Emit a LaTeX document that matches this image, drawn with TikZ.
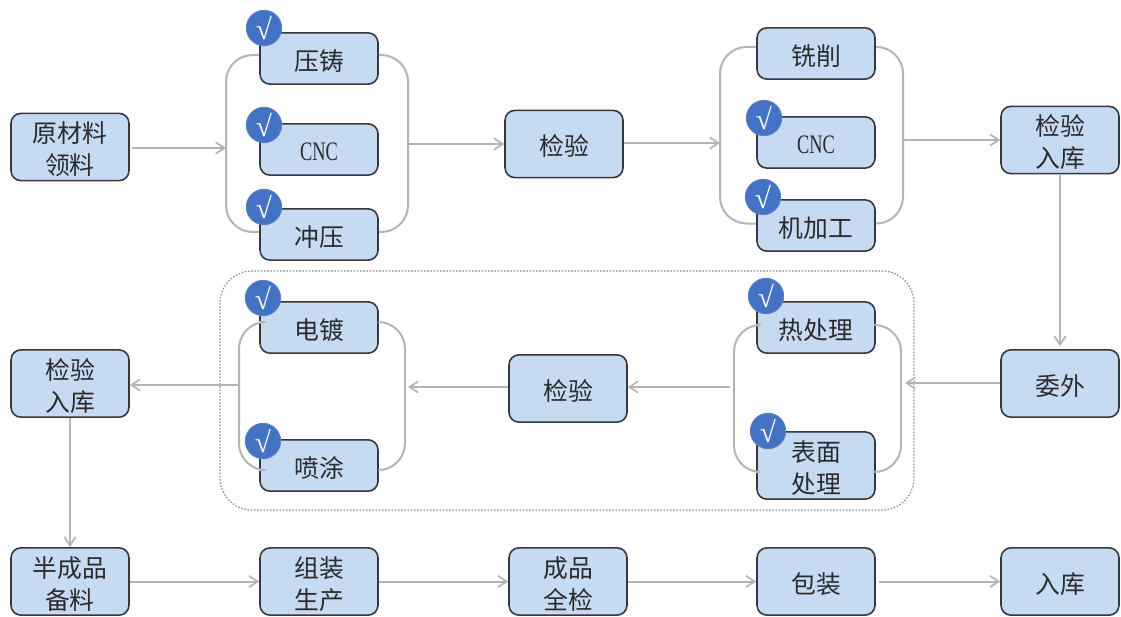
\documentclass[tikz,border=0pt]{standalone}
\usepackage{graphicx}
\usepackage{fontspec}
\setmainfont{Noto Sans CJK SC}
\newfontfamily\latinf{Liberation Serif}
\usetikzlibrary{arrows.meta}
\definecolor{boxfill}{HTML}{C6DAF2}
\definecolor{boxline}{HTML}{33383D}
\definecolor{link}{HTML}{B4B4B4}
\definecolor{badge}{HTML}{4472C4}
\definecolor{badgeline}{HTML}{5B80C4}
\definecolor{dotline}{HTML}{8E8E8E}
\definecolor{txt}{HTML}{2B2B2B}
\newcommand{\tx}[1]{\raisebox{-4pt}[\height][\depth]{\begin{tabular}{@{}c@{}}#1\end{tabular}}}
\newcommand{\cncword}{{\latinf\fontsize{20}{22}\selectfont\raisebox{-1.6pt}[\height][\depth]{\scalebox{.69}[1]{CNC}}}}
\tikzset{
  bx/.style={draw=boxline,line width=1.2pt,fill=boxfill,rounded corners=7.5pt,minimum width=88.5pt,inner sep=0pt,text=txt,font=\fontsize{18.6}{24}\selectfont},
  lowbox/.style={bx,minimum height=38.5pt},
  tallbox/.style={bx,minimum height=50.5pt},
  tick/.style={circle,draw=badgeline,line width=.7pt,fill=badge,minimum size=26.5pt,inner sep=0pt,text=white,font=\latinf\fontsize{22}{24}\selectfont},
  link/.style={draw=link,line width=1.5pt},
  arr/.style={link,-{Straight Barb[length=6.5pt,width=8.5pt,line width=1.3pt]}},
  brk/.style={link,rounded corners=20pt},
  ring/.style={draw=dotline,line width=.9pt,dash pattern=on 1.2pt off 1.2pt,rounded corners=24pt}
}
\begin{document}
\begin{tikzpicture}[x=.75pt,y=-.75pt]
\useasboundingbox (0,0) rectangle (1121,617);
\draw[ring] (220,271) rectangle (914,510);
% boxes
\node[tallbox] (raw) at (70,147) {\tx{原材料\\领料}};
\node[lowbox] (yz) at (319,58.5) {\tx{压铸}};
\node[lowbox] (cnca) at (319,149.5) {\cncword};
\node[lowbox] (cy) at (319,234.5) {\tx{冲压}};
\node[tallbox] (jya) at (564,144) {\tx{检验}};
\node[lowbox] (xx) at (816,53.5) {\tx{铣削}};
\node[lowbox] (cncb) at (816,142.5) {\cncword};
\node[lowbox] (jjg) at (816,225.5) {\tx{机加工}};
\node[tallbox] (rka) at (1060,140) {\tx{检验\\入库}};
\node[tallbox] (wy) at (1060,383.5) {\tx{委外}};
\node[lowbox] (rcl) at (816,327.5) {\tx{热处理}};
\node[tallbox] (bm) at (816,465.5) {\tx{表面\\处理}};
\node[tallbox] (jyb) at (568,388.5) {\tx{检验}};
\node[lowbox] (dd) at (319,327.5) {\tx{电镀}};
\node[lowbox] (pt) at (319,465.5) {\tx{喷涂}};
\node[tallbox] (rkb) at (70,383.5) {\tx{检验\\入库}};
\node[tallbox] (bcp) at (70,581.5) {\tx{半成品\\备料}};
\node[tallbox] (zz) at (319,581.5) {\tx{组装\\生产}};
\node[tallbox] (cp) at (568,581.5) {\tx{成品\\全检}};
\node[tallbox] (bz) at (816,581.5) {\tx{包装}};
\node[tallbox] (rkc) at (1060,581.5) {\tx{入库}};
% bracket coordinates
\coordinate (la) at (226,148);
\coordinate (ra) at (408,144);
\coordinate (lb) at (720,143);
\coordinate (rb) at (903,140);
\coordinate (lc) at (734,387);
\coordinate (rc) at (901,383);
\coordinate (rcx) at (905,383);
\coordinate (ld) at (239,385);
\coordinate (rd) at (405,387);
\coordinate (rdx) at (408,387);
\coordinate (lcx) at (730,387);
% brackets
\draw[brk] ([yshift=2.6pt]yz.west) -| (la) |- ([yshift=1.9pt]cy.west);
\draw[brk] ([yshift=2.6pt]yz.east) -| (ra) |- ([yshift=1.9pt]cy.east);
\draw[brk] ([yshift=4.9pt]xx.west) -| (lb) |- ([yshift=1.5pt]jjg.west);
\draw[brk] ([yshift=4.9pt]xx.east) -| (rb) |- ([yshift=1.5pt]jjg.east);
\draw[brk] ([yshift=1.9pt]rcl.west) -| (lc) |- ([yshift=-4.9pt]bm.west);
\draw[brk] ([yshift=1.9pt]rcl.east) -| (rc) |- ([yshift=-4.9pt]bm.east);
\draw[brk] ([yshift=4.1pt]dd.west) -| (ld) |- ([yshift=-3.4pt]pt.west);
\draw[brk] ([yshift=4.1pt]dd.east) -| (rd) |- ([yshift=-3.4pt]pt.east);
% arrows
\draw[arr] (raw.east) ++(2,1) -- (la);
\draw[arr] (ra) -- (jya.west |- ra);
\draw[arr] (jya.east |- lb) -- (lb);
\draw[arr] (rb) -- (rka.west |- rb);
\draw[arr,shorten >=2pt] (rka.south) -- (wy.north);
\draw[arr] (wy.west |- rc) -- (rcx);
\draw[arr] (lcx) -- (jyb.east |- lcx);
\draw[arr] (jyb.west |- rd) -- (rdx);
\draw[arr] (ld) -- (rkb.east |- ld);
\draw[arr] (rkb.south) -- (bcp.north);
\draw[arr] (bcp.east) -- (zz.west);
\draw[arr] (zz.east) -- (cp.west);
\draw[arr] (cp.east) -- (bz.west);
\draw[arr] ([xshift=2.5pt]bz.east) -- (rkc.west);
% badges
\node[tick] (t1) at (264,28) {√};
\node[tick] (t2) at (264,125) {√};
\node[tick] (t3) at (264,207) {√};
\node[tick] (t4) at (764,118) {√};
\node[tick] (t5) at (763,197) {√};
\node[tick] (t6) at (766,296) {√};
\node[tick] (t7) at (768,431) {√};
\node[tick] (t8) at (263,298) {√};
\node[tick] (t9) at (263,441) {√};
\end{tikzpicture}
\end{document}
